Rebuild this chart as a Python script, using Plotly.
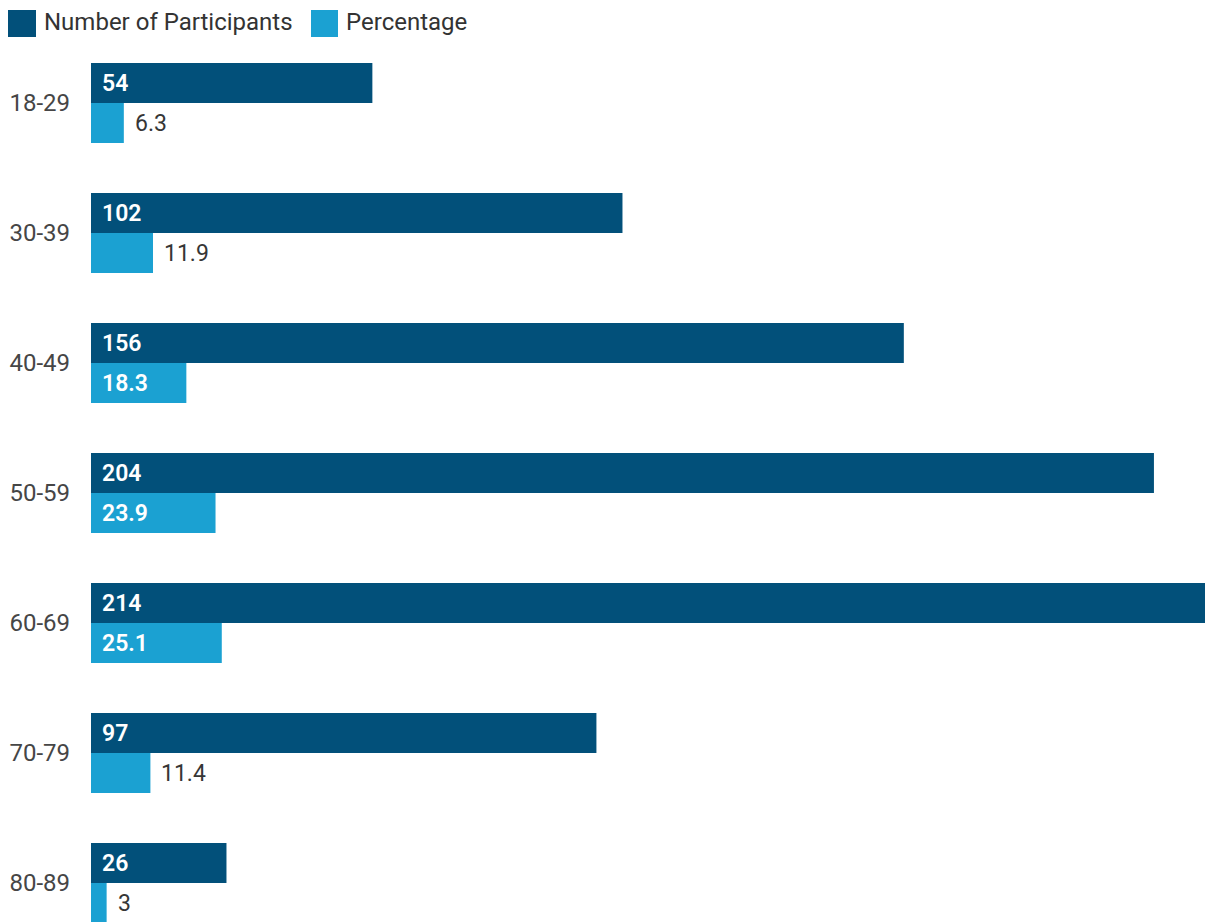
import plotly.graph_objects as go

# Age groups and the two measures per group
age_groups = ["18-29", "30-39", "40-49", "50-59", "60-69", "70-79", "80-89"]
participants = [54, 102, 156, 204, 214, 97, 26]
percentage = [6.3, 11.9, 18.3, 23.9, 25.1, 11.4, 3]

series_names = ["Number of Participants", "Percentage"]
dark_blue = "#02507A"
light_blue = "#1BA1D2"
font_family = "Roboto, Arial, sans-serif"

W, H = 1205, 922
M_L, M_T = 91, 38
PLOT_W = W - M_L
PLOT_H = H - M_T

fig = go.Figure()
fig.add_trace(go.Bar(
    y=age_groups, x=participants, orientation="h", name=series_names[0],
    marker=dict(color=dark_blue, line=dict(width=0)), showlegend=False,
    hoverinfo="x+y",
))
fig.add_trace(go.Bar(
    y=age_groups, x=percentage, orientation="h", name=series_names[1],
    marker=dict(color=light_blue, line=dict(width=0)), showlegend=False,
    hoverinfo="x+y",
))

annotations = []
# value labels: participants always inside at the bar start (upper bar of each pair)
for cat, v in zip(age_groups, participants):
    annotations.append(dict(
        x=0, y=cat, xref="x", yref="y", text=str(v), showarrow=False,
        xanchor="left", yanchor="middle", xshift=9, yshift=20,
        font=dict(family=font_family, size=23, color="#ffffff", weight=600),
    ))
# percentage labels: inside when the bar is wide enough, otherwise just past its end
for cat, v in zip(age_groups, percentage):
    inside = v >= 15
    annotations.append(dict(
        x=0 if inside else v, y=cat, xref="x", yref="y", text=f"{v:g}",
        showarrow=False, xanchor="left", yanchor="middle",
        xshift=9, yshift=-20,
        font=dict(family=font_family, size=23,
                  color="#ffffff" if inside else "#363636",
                  weight=600 if inside else "normal"),
    ))


def px_x(p):
    return (p - M_L) / PLOT_W


def px_y(p):
    return (H - p) / PLOT_H


# legend drawn as swatches + labels along the top edge
shapes = []
legend_items = [(8, 36, 42, series_names[0], dark_blue),
                (311, 338, 344, series_names[1], light_blue)]
for x0, x1, tx, label, col in legend_items:
    shapes.append(dict(type="rect", xref="paper", yref="paper",
                       x0=px_x(x0), x1=px_x(x1), y0=px_y(37), y1=px_y(10),
                       fillcolor=col, line=dict(width=0)))
    annotations.append(dict(
        x=px_x(tx), y=px_y(22), xref="paper", yref="paper", text=label,
        showarrow=False, xanchor="left", yanchor="middle",
        font=dict(family=font_family, size=24, color="#333333"),
    ))

fig.update_layout(
    width=W, height=H,
    margin=dict(l=M_L, r=0, t=M_T, b=0, pad=0),
    paper_bgcolor="#ffffff", plot_bgcolor="#ffffff",
    barmode="group", bargap=0.385, bargroupgap=0,
    showlegend=False,
    font=dict(family=font_family, size=24, color="#444444"),
    annotations=annotations, shapes=shapes,
)
fig.update_xaxes(range=[0, 213.8], visible=False, showgrid=False, zeroline=False)
fig.update_yaxes(
    type="category", categoryorder="array", categoryarray=age_groups,
    range=[6.3, -0.5], showgrid=False, zeroline=False, showline=False,
    ticks="", ticklabelstandoff=20,
    tickfont=dict(family=font_family, size=24, color="#464646"),
)

fig.write_html("out.html")
